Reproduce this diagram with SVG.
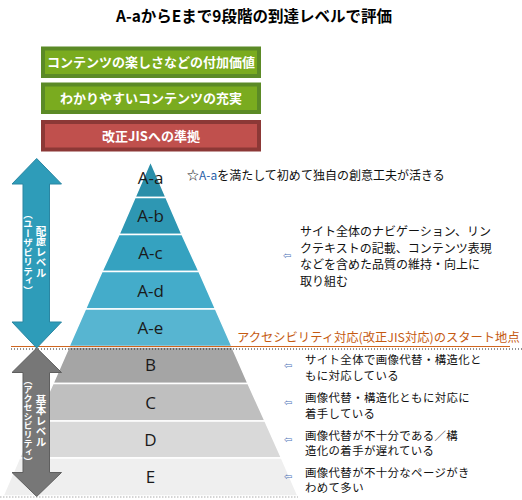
<svg xmlns="http://www.w3.org/2000/svg" width="522" height="500" viewBox="0 0 522 500">
<style>
.jp{font-family:"Noto Sans CJK JP","Noto Sans",sans-serif}
.title{font-size:15.5px;font-weight:bold;fill:#000}
.btxt{font-size:13px;font-weight:bold;fill:#fff}
.lvl{font-family:"Open Sans","Noto Sans",sans-serif;font-size:17px;fill:#1a1a1a;text-anchor:middle}
.desc{font-size:12px;fill:#111}
.desc2{font-size:11.4px;fill:#111;letter-spacing:0.4px}
.arr{font-size:10px;fill:#4a72b8;font-family:"DejaVu Sans",sans-serif}
.vt{writing-mode:vertical-rl;text-anchor:middle;fill:#fff;font-weight:bold}
.tier{stroke:#fff;stroke-width:1.5}
</style>
<rect width="522" height="500" fill="#fff"/>
<text class="jp title" x="254" y="22" text-anchor="middle">A-aからEまで9段階の到達レベルで評価</text>

<g id="box1">
<rect x="43" y="48.5" width="216" height="27.5" fill="#7aab1f" stroke="#5b8a26" stroke-width="4"/>
<text class="jp btxt" x="151" y="67" text-anchor="middle">コンテンツの楽しさなどの付加価値</text>
</g>
<g id="box2">
<rect x="43" y="84.5" width="216" height="27.5" fill="#7aab1f" stroke="#5b8a26" stroke-width="4"/>
<text class="jp btxt" x="151" y="103" text-anchor="middle">わかりやすいコンテンツの充実</text>
</g>
<g id="box3">
<rect x="43" y="122" width="216" height="27.5" fill="#c0504d" stroke="#8c3836" stroke-width="4"/>
<text class="jp btxt" x="151" y="140.5" text-anchor="middle">改正JISへの準拠</text>
</g>

<g id="pyramid">
<polygon class="tier" points="150.5,161.5 166,197.5 135,197.5" fill="#2a8ea9"/>
<polygon class="tier" points="135,197.5 166,197.5 182,234.5 119,234.5" fill="#2e97b3"/>
<polygon class="tier" points="119,234.5 182,234.5 199,271.5 102,271.5" fill="#35a2c0"/>
<polygon class="tier" points="102,271.5 199,271.5 215.5,309 85.5,309" fill="#44acca"/>
<polygon class="tier" points="85.5,309 215.5,309 232,346.5 69,346.5" fill="#57b5d1"/>
<polygon class="tier" points="69,347 232,347 248,383.5 53,383.5" fill="#a5a5a5"/>
<polygon class="tier" points="53,383.5 248,383.5 265,421 36,421" fill="#bfbfbf"/>
<polygon class="tier" points="36,421 265,421 281.5,458 19.5,458" fill="#d9d9d9"/>
<polygon class="tier" points="19.5,458 281.5,458 298,496 3,496" fill="#efefef"/>
<text class="lvl" x="150.5" y="184">A-a</text>
<text class="lvl" x="150.5" y="222">A-b</text>
<text class="lvl" x="150.5" y="259">A-c</text>
<text class="lvl" x="150.5" y="296.5">A-d</text>
<text class="lvl" x="150.5" y="334">A-e</text>
<text class="lvl" x="150.5" y="371">B</text>
<text class="lvl" x="150.5" y="408.5">C</text>
<text class="lvl" x="150.5" y="446">D</text>
<text class="lvl" x="150.5" y="482.5">E</text>
</g>

<g id="lines">
<line x1="0" y1="497" x2="298" y2="497" stroke="#aaa" stroke-width="1" stroke-dasharray="1.5,1.5"/>
<line x1="11" y1="346.5" x2="510" y2="346.5" stroke="#d0661f" stroke-width="1.2"/>
<line x1="11" y1="349" x2="522" y2="349" stroke="#222" stroke-width="1" stroke-dasharray="1,2"/>
</g>

<g id="arrow-usability">
<polygon points="36.7,158.5 61.5,184 49.5,184 49.5,322 61.5,322 36.7,348 12,322 23,322 23,184 12,184" fill="#2e9cb9" stroke="#2a86a2" stroke-width="1"/>
<text class="jp vt" x="41" y="252" font-size="10.5">配慮レベル</text>
<text class="jp vt" x="28" y="252" font-size="9.5">（ユーザビリティ）</text>
</g>
<g id="arrow-accessibility">
<polygon points="36.7,348 61.5,372.5 49.5,372.5 49.5,472.5 61.5,472.5 36.7,496.5 12,472.5 23,472.5 23,372.5 12,372.5" fill="#777" stroke="#5f5f5f" stroke-width="1"/>
<text class="jp vt" x="41" y="421" font-size="10.5">基本レベル</text>
<text class="jp vt" x="28" y="421" font-size="9">（アクセシビリティ）</text>
</g>

<g id="notes">
<text class="jp desc" x="187" y="180">☆<tspan fill="#2b5fa8">A-a</tspan>を満たして初めて独自の創意工夫が活きる</text>
<text class="arr" x="283" y="259">⇦</text>
<text class="jp desc" x="300" y="236">サイト全体のナビゲーション、リン</text>
<text class="jp desc" x="300" y="252.5">クテキストの記載、コンテンツ表現</text>
<text class="jp desc" x="300" y="269">などを含めた品質の維持・向上に</text>
<text class="jp desc" x="300" y="285.5">取り組む</text>
<text class="jp" x="237" y="342" font-size="12.3" fill="#c55a11">アクセシビリティ対応(改正JIS対応)のスタート地点</text>

<text class="arr" x="284" y="369">⇦</text>
<text class="jp desc2" x="305" y="364">サイト全体で画像代替・構造化と</text>
<text class="jp desc2" x="305" y="379.5">もに対応している</text>
<text class="arr" x="284" y="406">⇦</text>
<text class="jp desc2" x="305" y="402">画像代替・構造化ともに対応に</text>
<text class="jp desc2" x="305" y="417.5">着手している</text>
<text class="arr" x="284" y="442.5">⇦</text>
<text class="jp desc2" x="305" y="439.5">画像代替が不十分である／構</text>
<text class="jp desc2" x="305" y="455">造化の着手が遅れている</text>
<text class="arr" x="284" y="480">⇦</text>
<text class="jp desc2" x="305" y="476.5">画像代替が不十分なページがき</text>
<text class="jp desc2" x="305" y="492">わめて多い</text>
</g>
</svg>
